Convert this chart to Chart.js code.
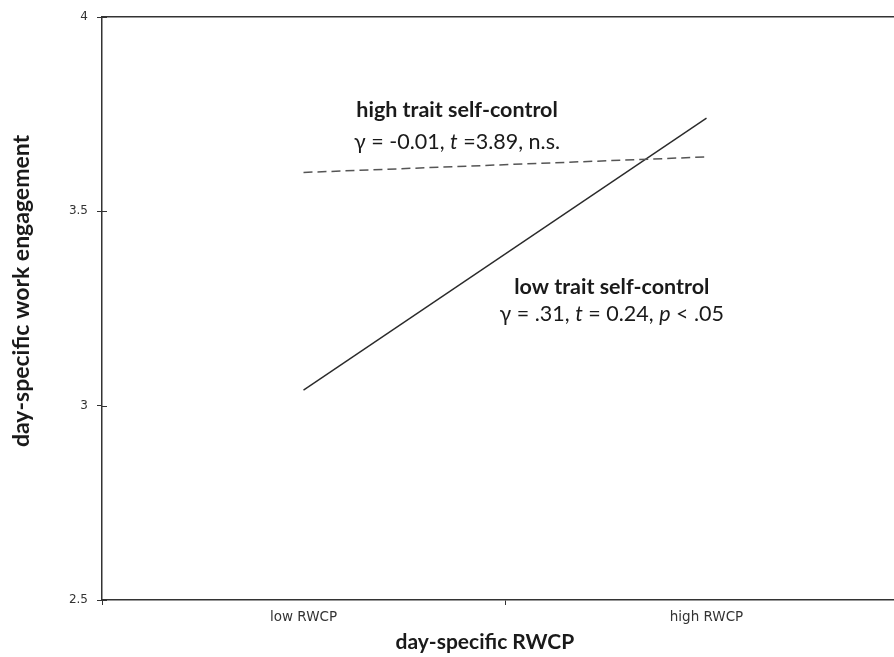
<!DOCTYPE html>
<html>
<head>
<meta charset="utf-8">
<script src="https://cdn.jsdelivr.net/npm/chart.js@4.4.1/dist/chart.umd.min.js"></script>
<style>
  html, body { margin: 0; padding: 0; background: #fff; overflow: hidden; }
  #wrap { width: 910px; height: 657px; }
</style>
</head>
<body>
<div id="wrap"><canvas id="myChart"></canvas></div>
<script>
// categories and simple slopes
var categories = ['low RWCP', 'high RWCP']
var highSelfControl = [3.60, 3.64]
var lowSelfControl = [3.04, 3.74]
var yTicks = [2.5, 3, 3.5, 4]

// axis titles
var xTitle = 'day-specific RWCP'
var yTitle = 'day-specific work engagement'

// annotation texts, each line as [text, italic] pieces
var highLabel = [[['high trait self-control', false]], [['γ = -0.01, ', false], ['t', true], [' =3.89, n.s.', false]]]
var lowLabel = [[['low trait self-control', false]], [['γ = .31, ', false], ['t', true], [' = 0.24, ', false], ['p', true], [' < .05', false]]]
// anchor of each annotation in data units (category index, y of line 1, y of line 2)
var highAnchor = [0.381, 3.761, 3.678]
var lowAnchor = [0.765, 3.305, 3.235]

var fontFam = 'Lato, "Open Sans", sans-serif'
var tickFam = '"DejaVu Sans", sans-serif'

function drawLine(ctx, pieces, cx, cy, bold) {
    var total = 0
    pieces.forEach(function (p) {
        ctx.font = (p[1] ? 'italic ' : '') + (bold ? 'bold ' : '') + '21.5px ' + fontFam
        total += ctx.measureText(p[0]).width
    })
    var x = cx - total / 2
    pieces.forEach(function (p) {
        ctx.font = (p[1] ? 'italic ' : '') + (bold ? 'bold ' : '') + '21.5px ' + fontFam
        ctx.fillText(p[0], x, cy)
        x += ctx.measureText(p[0]).width
    })
}

var labelPlugin = {
    id: 'slopeLabels',
    afterDraw: function (chart) {
        var ctx = chart.ctx
        var xs = chart.scales.x, ys = chart.scales.y
        ctx.save()
        // inner half of the y tick marks (reference ticks cross the axis)
        ctx.strokeStyle = '#333'
        ctx.lineWidth = 1
        yTicks.forEach(function (v) {
            var py = Math.round(ys.getPixelForValue(v)) + 0.5
            ctx.beginPath()
            ctx.moveTo(xs.left, py)
            ctx.lineTo(xs.left + 5, py)
            ctx.stroke()
        })
        ctx.fillStyle = '#1a1a1a'
        ctx.textAlign = 'left'
        ctx.textBaseline = 'middle'
        ;[[highLabel, highAnchor], [lowLabel, lowAnchor]].forEach(function (item) {
            var lbl = item[0], a = item[1]
            var cx = xs.getPixelForValue(a[0])
            drawLine(ctx, lbl[0], cx, ys.getPixelForValue(a[1]), true)
            drawLine(ctx, lbl[1], cx, ys.getPixelForValue(a[2]), false)
        })
        // axis titles: in the reference they sit a little off the axis centres
        ctx.textAlign = 'center'
        ctx.font = 'bold 21px ' + fontFam
        ctx.fillText(xTitle, xs.getPixelForValue(0.45), chart.height - 15)
        ctx.save()
        ctx.translate(22, ys.getPixelForValue(3.295))
        ctx.rotate(-Math.PI / 2)
        ctx.font = 'bold 23px ' + fontFam
        ctx.fillText(yTitle, 0, 0)
        ctx.restore()
        ctx.restore()
    }
}

window.addEventListener('load', function () {
    var ctx = document.getElementById('myChart').getContext('2d')
    var data = {
        labels: categories,
        datasets: [
            {
                label: 'high trait self-control',
                data: highSelfControl,
                borderColor: '#555',
                borderWidth: 1.5,
                borderDash: [9, 5],
                pointRadius: 0
            },
            {
                label: 'low trait self-control',
                data: lowSelfControl,
                borderColor: '#2a2a2a',
                borderWidth: 1.4,
                pointRadius: 0
            }
        ]
    }
    var config = {
        type: 'line',
        data: data,
        plugins: [labelPlugin],
        options: {
            responsive: true,
            maintainAspectRatio: false,
            animation: false,
            layout: { padding: { top: 17, right: 2, left: 0, bottom: 0 } },
            plugins: {
                legend: { display: false },
                tooltip: { enabled: false }
            },
            scales: {
                x: {
                    offset: true,
                    grid: { offset: true, drawOnChartArea: false, tickLength: 5, color: '#333' },
                    border: { color: '#333', width: 1.5 },
                    ticks: { color: '#333', font: { family: tickFam, size: 13.5 }, padding: 4 },
                    afterFit: function (s) { s.height = 57 }
                },
                x2: {
                    type: 'category',
                    labels: categories,
                    position: 'top',
                    grid: { display: false },
                    ticks: { display: false },
                    border: { display: true, color: '#333', width: 1.5 },
                    afterFit: function (s) { s.height = 0 }
                },
                y: {
                    min: 2.5,
                    max: 4,
                    afterBuildTicks: function (s) { s.ticks = yTicks.map(function (v) { return { value: v } }) },
                    grid: { drawOnChartArea: false, tickLength: 5, color: '#333' },
                    border: { color: '#333', width: 1.5 },
                    ticks: {
                        color: '#333',
                        font: { family: tickFam, size: 12 },
                        padding: 9,
                        callback: function (v) { return String(v) }
                    },
                    afterFit: function (s) { s.width = 102 }
                }
            }
        }
    }
    new Chart(ctx, config)
})
</script>
</body>
</html>
